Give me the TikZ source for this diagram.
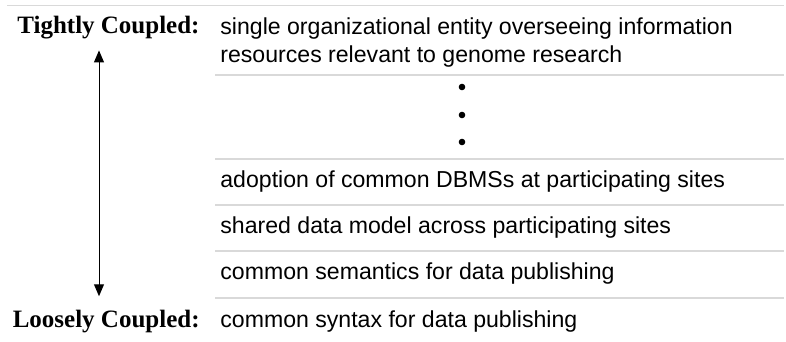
\documentclass[tikz,border=0pt]{standalone}
\usepackage{fontspec}
\setmainfont{Liberation Sans}
\newfontfamily\timesfont{Liberation Serif}
\usetikzlibrary{arrows.meta}

\begin{document}
\begin{tikzpicture}[x=0.5pt,y=-0.5pt,>={Triangle[length=6pt,width=5pt]},
  level/.style={anchor=base west,inner sep=0pt,font=\fontsize{11.55}{14}\selectfont},
  coupling/.style={anchor=base east,inner sep=0pt,font=\timesfont\bfseries\fontsize{12.5}{15}\selectfont},
  rule/.style={draw=black!15,line width=0.75pt}]
  \useasboundingbox (0,0) rectangle (786,342);
  % Trennlinien
  \draw[rule] (7,5.5) -- (784,5.5);
  \foreach \y in {75,159,205,251,298}
    \draw[rule] (215,\y) -- (784,\y);
  % Stufen
  \node[coupling] (tight) at (200,34) {Tightly Coupled:};
  \node[coupling] (loose) at (200,327) {Loosely Coupled:};
  \node[level,align=left] (single) at (220,63) {single organizational entity overseeing information\\resources relevant to genome research};
  \node[level] (dbms) at (220,187) {adoption of common DBMSs at participating sites};
  \node[level] (model) at (220,233) {shared data model across participating sites};
  \node[level] (sem) at (220,279) {common semantics for data publishing};
  \node[level] (syn) at (220,327) {common syntax for data publishing};
  % Punkte
  \foreach \y in {87,115,142}
    \fill (462,\y) circle (3.3);
  % Achse
  \coordinate (axis) at (99,0);
  \draw[<->,line width=0.5pt,shorten <=5.25pt,shorten >=6.5pt] (axis |- tight.south) -- (axis |- loose.north);
\end{tikzpicture}
\end{document}
